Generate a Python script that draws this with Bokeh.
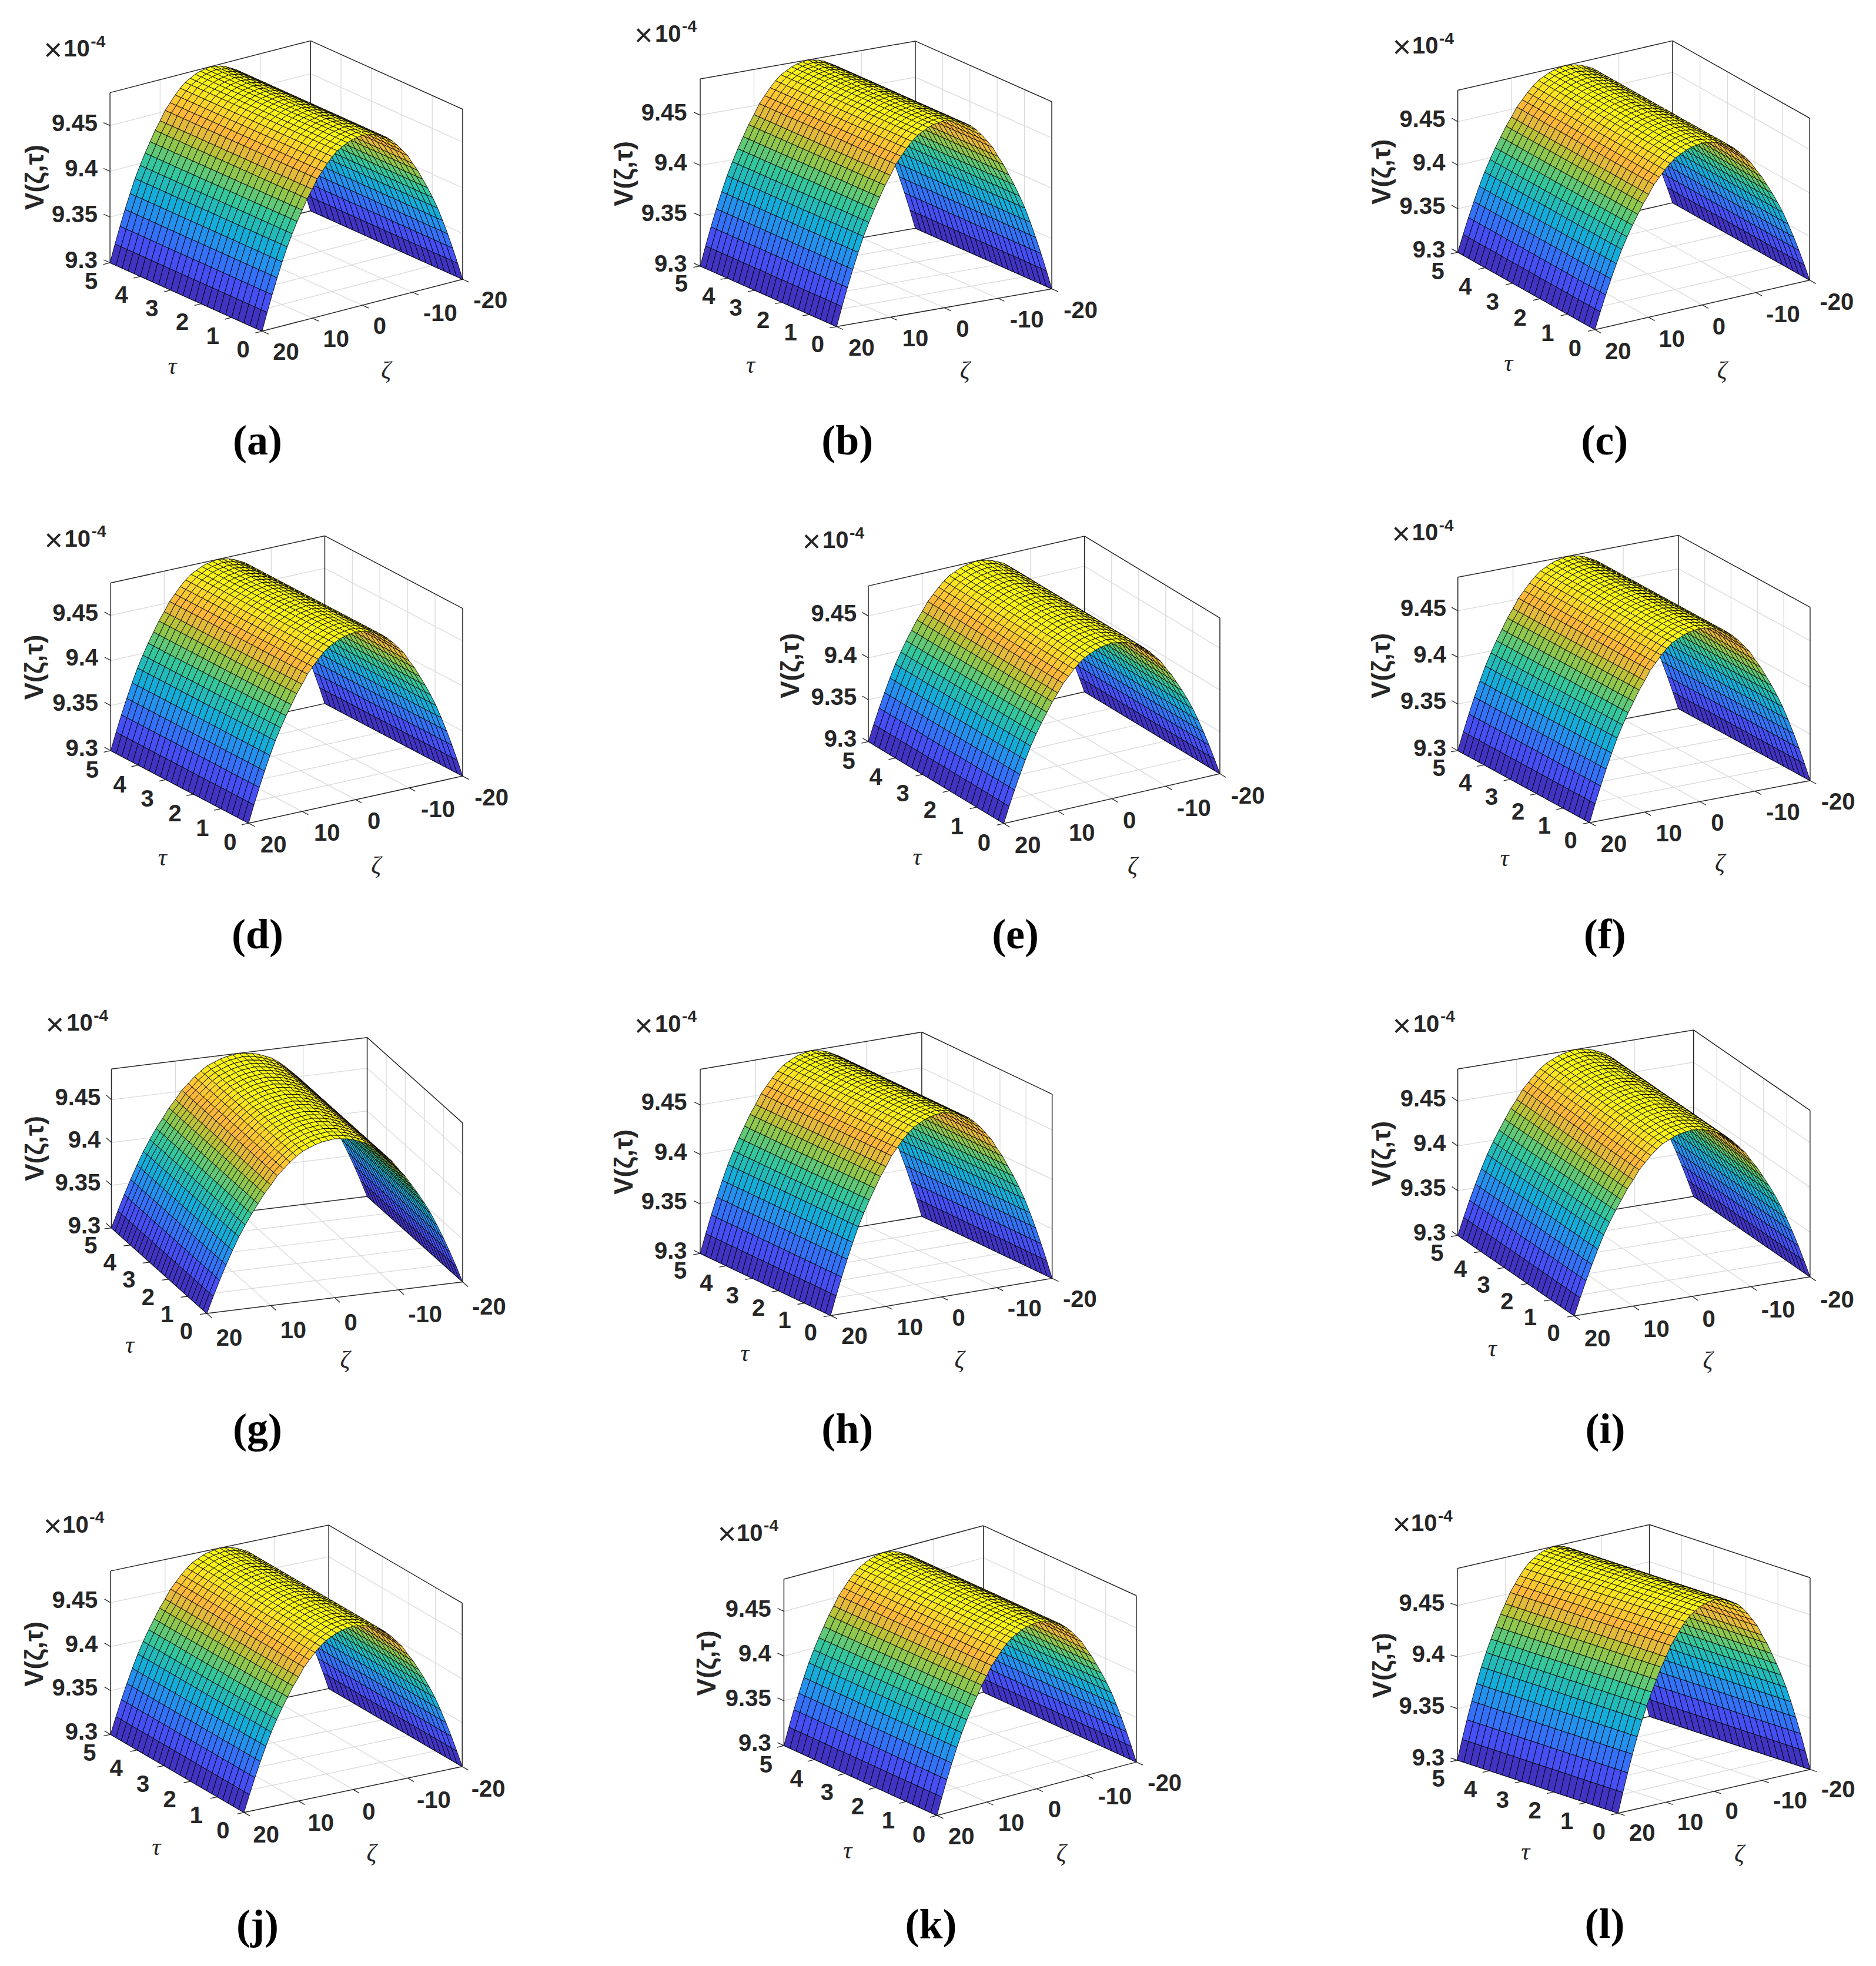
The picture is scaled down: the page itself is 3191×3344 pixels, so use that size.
from bokeh.plotting import figure
from bokeh.layouts import gridplot
from bokeh.embed import file_html
from bokeh.resources import INLINE
from bokeh.models import Range1d
from bokeh.core.properties import value

# ---------- data ----------
ZETA = [-20,-19,-18,-17,-16,-15,-14,-13,-12,-11,-10,-9,-8,-7,-6,-5,-4,-3,-2,-1,0,
        1,2,3,4,5,6,7,8,9,10,11,12,13,14,15,16,17,18,19,20]
TAU = [0,0.2,0.4,0.6,0.8,1,1.2,1.4,1.6,1.8,2,2.2,2.4,2.6,2.8,3,3.2,3.4,3.6,3.8,4,
       4.2,4.4,4.6,4.8,5]
V_PROFILE = [9.300,9.319,9.337,9.354,9.370,9.385,9.398,9.410,9.421,9.432,9.441,
             9.451,9.458,9.465,9.471,9.476,9.479,9.482,9.484,9.485,9.486,
             9.485,9.484,9.482,9.479,9.476,9.471,9.465,9.458,9.451,9.441,
             9.432,9.421,9.410,9.398,9.385,9.370,9.354,9.337,9.319,9.300]
Z_TICKS = [9.3, 9.35, 9.4, 9.45]
Z_TICK_LABELS = ["9.3", "9.35", "9.4", "9.45"]
TAU_TICKS = [0, 1, 2, 3, 4, 5]
ZETA_TICKS = [-20, -10, 0, 10, 20]
LETTERS = list("abcdefghijkl")

# colour map stops (position, rgb)
PARULA = [(0.0,(.2422,.1504,.6603)),(.143,(.2803,.2982,.9521)),(.286,(.1801,.5049,.9814)),
          (.429,(.0689,.6948,.8394)),(.571,(.2161,.7843,.5923)),(.714,(.6720,.7793,.2227)),
          (.82,(.9970,.7059,.2299)),(.90,(.9900,.8300,.1700)),(.96,(.9800,.9500,.0900)),(1.0,(.9769,.9839,.0705))]

# ---------- layout of each panel, as measured in crops: (x0, y0, sx, sy) ----------
C1 = 1.6505; CY = 1.96; CE = 0.8078; CJ = 0.784
PANELS = [
 dict(c=(0,0,C1,CY), L=(308,875),N=(735,1103),R=(1298,930),TL=308,t0=(682,1165),z20=(767,1173),tl=(483,1222),zl=(1083,1240),V=(103,590),x=(148,167),ten=(178,160),cap=(722,1478),zr=273),
 dict(c=(950,0,C1,CY), L=(397,886),N=(780,1088),R=(1384,962),TL=262,t0=(727,1148),z20=(815,1160),tl=(538,1218),zl=(1140,1240),V=(188,578),x=(238,118),ten=(270,110),cap=(810,1478),zr=360),
 dict(c=(2241,0,C1,CY), L=(393,840),N=(778,1098),R=(1381,933),TL=300,t0=(722,1162),z20=(808,1172),tl=(535,1212),zl=(1135,1240),V=(185,572),x=(236,158),ten=(265,150),cap=(805,1478),zr=358),
 dict(c=(0,840,C1,CY), L=(310,855),N=(697,1097),R=(1298,940),TL=296,t0=(645,1162),z20=(732,1170),tl=(455,1215),zl=(1055,1243),V=(100,577),x=(150,155),ten=(180,147),cap=(722,1478),zr=275),
 dict(c=(1250,840,CE,CY), L=(183,825),N=(369,1098),R=(666,932),TL=306,t0=(342,1163),z20=(385,1172),tl=(250,1213),zl=(546,1245),V=(78,572),x=(105,160),ten=(120,152),cap=(385,1478),zr=167),
 dict(c=(1250,840,CE,CY), L=(993,855),N=(1174,1095),R=(1477,955),TL=277,t0=(1148,1155),z20=(1190,1167),tl=(1057,1217),zl=(1353,1235),V=(890,572),x=(915,135),ten=(930,127),cap=(1195,1478),zr=977),
 dict(c=(0,1680,C1,CY), L=(312,800),N=(580,1085),R=(1298,980),TL=270,t0=(522,1145),z20=(608,1168),tl=(363,1193),zl=(968,1245),V=(103,535),x=(153,125),ten=(186,115),cap=(722,1480),zr=282),
 dict(c=(950,1680,C1,CY), L=(397,885),N=(763,1092),R=(1385,968),TL=271,t0=(707,1150),z20=(795,1162),tl=(522,1220),zl=(1125,1245),V=(188,580),x=(238,128),ten=(270,118),cap=(810,1480),zr=360),
 dict(c=(2241,1680,C1,CY), L=(393,825),N=(720,1093),R=(1382,963),TL=270,t0=(662,1152),z20=(750,1170),tl=(490,1205),zl=(1095,1248),V=(185,552),x=(236,128),ten=(268,118),cap=(807,1480),zr=360),
 dict(c=(0,2540,CJ,CY), L=(147,803),N=(325,1063),R=(616,910),TL=258,t0=(297,1125),z20=(338,1137),tl=(208,1180),zl=(495,1205),V=(48,535),x=(70,110),ten=(83,102),cap=(343,1450),zr=130),
 dict(c=(0,2540,CJ,CY), L=(1045,840),N=(1249,1073),R=(1515,895),TL=285,t0=(1225,1137),z20=(1265,1143),tl=(1130,1192),zl=(1415,1205),V=(945,565),x=(969,137),ten=(982,130),cap=(1241,1447),zr=1028),
 dict(c=(2300,2540,1.76,1.95), L=(314,884),N=(795,1060),R=(1370,915),TL=248,t0=(738,1122),z20=(830,1127),tl=(518,1190),zl=(1158,1200),V=(95,570),x=(147,105),ten=(175,97),cap=(755,1438),zr=276),
]
COLS = [0, 1000, 2200, 3175]
ROWS = [0, 830, 1680, 2530, 3328]
ZMIN, ZMAX = min(V_PROFILE), max(V_PROFILE)
DARK = "#262626"
GRID = "#dcdcdc"
SANS = value("Liberation Sans")
SERIF = value("Liberation Serif")


def parula(f):
    f = max(0.0, min(1.0, f))
    for (p0, a), (p1, b) in zip(PARULA[:-1], PARULA[1:]):
        if f <= p1:
            t = (f - p0) / (p1 - p0)
            return "#%02x%02x%02x" % tuple(round(255 * (a[k] + (b[k] - a[k]) * t)) for k in range(3))
    return "#f9fb12"


def make_panel(idx, x0, x1, y0, y1):
    P = PANELS[idx]
    cx, cy, sx, sy = P["c"]
    def pt(q):
        return (cx + q[0] / sx, cy + q[1] / sy)
    Lp, Np, Rp = pt(P["L"]), pt(P["N"]), pt(P["R"])
    H = (P["L"][1] - P["TL"]) / sy

    def proj(z, t, v):
        a = (20 - z) / 40
        b = t / 5
        c = (v - ZMIN) / (ZMAX - ZMIN)
        return (Np[0] + (Rp[0] - Np[0]) * a + (Lp[0] - Np[0]) * b,
                Np[1] + (Rp[1] - Np[1]) * a + (Lp[1] - Np[1]) * b - H * c)

    p = figure(width=x1 - x0, height=y1 - y0, x_range=Range1d(x0, x1), y_range=Range1d(y1, y0),
               output_backend="svg", toolbar_location=None, min_border=0,
               x_axis_type=None, y_axis_type=None, background_fill_color="white",
               border_fill_color="white", outline_line_color=None)
    p.grid.visible = False

    def segs(pairs, color, width):
        p.multi_line([[a[0], b[0]] for a, b in pairs], [[a[1], b[1]] for a, b in pairs],
                     line_color=color, line_width=width)

    # grid lines on floor and walls
    g = []
    for z in ZETA_TICKS[1:-1]:
        g.append((proj(z, 0, ZMIN), proj(z, 5, ZMIN)))
        g.append((proj(z, 5, ZMIN), proj(z, 5, ZMAX)))
    for t in TAU_TICKS[1:-1]:
        g.append((proj(20, t, ZMIN), proj(-20, t, ZMIN)))
        g.append((proj(-20, t, ZMIN), proj(-20, t, ZMAX)))
    for v in Z_TICKS[1:]:
        g.append((proj(20, 5, v), proj(-20, 5, v)))
        g.append((proj(-20, 5, v), proj(-20, 0, v)))
    segs(g, GRID, 1.4)

    # box edges
    b = [(proj(20, 5, ZMIN), proj(20, 5, ZMAX)),
         (proj(20, 5, ZMAX), proj(-20, 5, ZMAX)),
         (proj(-20, 5, ZMAX), proj(-20, 0, ZMAX)),
         (proj(-20, 0, ZMAX), proj(-20, 0, ZMIN)),
         (proj(-20, 5, ZMAX), proj(-20, 5, ZMIN)),
         (proj(-20, 5, ZMIN), proj(20, 5, ZMIN)),
         (proj(-20, 5, ZMIN), proj(-20, 0, ZMIN)),
         (proj(20, 0, ZMIN), proj(-20, 0, ZMIN)),
         (proj(20, 0, ZMIN), proj(20, 5, ZMIN))]
    segs(b, DARK, 1.5)

    # surface, far quads first
    xs, ys, cols = [], [], []
    for i in range(len(ZETA) - 1):
        for j in range(len(TAU) - 2, -1, -1):
            v0, v1 = V_PROFILE[i], V_PROFILE[i + 1]
            q = [proj(ZETA[i], TAU[j], v0), proj(ZETA[i + 1], TAU[j], v1),
                 proj(ZETA[i + 1], TAU[j + 1], v1), proj(ZETA[i], TAU[j + 1], v0)]
            xs.append([c[0] for c in q])
            ys.append([c[1] for c in q])
            cols.append(parula(((v0 + v1) / 2 - ZMIN) / (ZMAX - ZMIN)))
    p.patches(xs, ys, fill_color=cols, line_color="#000000", line_width=0.9)

    # ticks
    def unit(a, b_, n=12.0):
        dx, dy = b_[0] - a[0], b_[1] - a[1]
        d = (dx * dx + dy * dy) ** 0.5
        return dx / d * n, dy / d * n
    ut = unit(Np, Lp)
    uz = unit(Rp, Np)
    uf = unit(Lp, Np)
    tk = []
    for v in Z_TICKS:
        a = proj(20, 5, v)
        tk.append((a, (a[0] + ut[0], a[1] + ut[1])))
    for t in TAU_TICKS:
        a = proj(20, t, ZMIN)
        tk.append((a, (a[0] + uz[0], a[1] + uz[1])))
    for z in ZETA_TICKS:
        a = proj(z, 0, ZMIN)
        tk.append((a, (a[0] + uf[0], a[1] + uf[1])))
    segs(tk, DARK, 1.3)

    def txt(x, y, s, size, font=SANS, style="bold", align="center", base="middle", angle=0.0, color=DARK):
        p.text([x], [y], text=[s], text_font=font, text_font_size=f"{size}px", text_font_style=style,
               text_align=align, text_baseline=base, angle=angle, text_color=color)

    # z tick labels
    zr = cx + P["zr"] / sx
    for v, s in zip(Z_TICKS, Z_TICK_LABELS):
        a = proj(20, 5, v)
        txt(zr, a[1] - 5, s, 40, align="right")
    # tau tick labels
    t0 = pt(P["t0"])
    dtx, dty = t0[0] - Np[0], t0[1] - Np[1]
    for t in TAU_TICKS:
        a = proj(20, t, ZMIN)
        txt(a[0] + dtx, a[1] + dty - 1, str(t), 40)
    # zeta tick labels
    z20 = pt(P["z20"])
    dzx, dzy = z20[0] - Np[0], z20[1] - Np[1]
    for z in ZETA_TICKS:
        a = proj(z, 0, ZMIN)
        txt(a[0] + dzx - 1, a[1] + dzy - 1, str(z), 40, align="left")
    # axis names
    q = pt(P["tl"]); txt(q[0], q[1] - 2, "τ", 42, font=SERIF, style="italic")
    q = pt(P["zl"]); txt(q[0], q[1] - 3, "ζ", 42, font=SERIF, style="italic")
    q = pt(P["V"]); txt(q[0] - 4, q[1], "V(ζ,τ)", 44, angle=1.5708)
    # exponent
    q = pt(P["x"]); txt(q[0], q[1] - 2, "×", 54, style="normal")
    q = pt(P["ten"]); txt(q[0], q[1], "10", 40, align="left")
    txt(q[0] + 46, q[1] - 12, "-4", 28, align="left")
    # caption
    q = pt(P["cap"]); txt(q[0], q[1] - 6, f"({LETTERS[idx]})", 72, font=SERIF, color="#000000")
    return p


rows = []
k = 0
for r in range(4):
    line = []
    for c in range(3):
        line.append(make_panel(k, COLS[c], COLS[c + 1], ROWS[r], ROWS[r + 1]))
        k += 1
    rows.append(line)

grid = gridplot(rows, toolbar_location=None, merge_tools=False)
open("out.html", "w").write(file_html(grid, INLINE))
